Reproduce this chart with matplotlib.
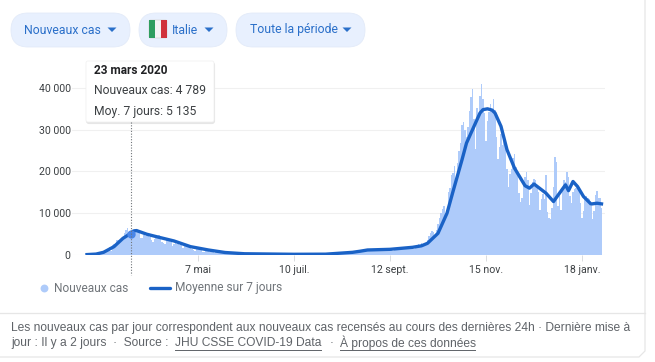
import pandas as pd
import matplotlib
matplotlib.use("Agg")
import matplotlib.pyplot as plt
import matplotlib.dates as mdates
from matplotlib.patches import FancyBboxPatch, Polygon, Rectangle

plt.rcParams['font.family'] = ['Roboto', 'DejaVu Sans']

# nouveaux cas par jour, du 23 fevrier 2020 au 31 janvier 2021
feb = [59, 77, 93, 78, 250, 238, 240]
mar = [561, 347, 466, 587, 769, 778, 1247, 1492, 1797, 977, 2313, 2651, 2547, 3497, 3590, 3233,
       3526, 4207, 5322, 5986, 6557, 5560, 4789, 5249, 5210, 6203, 5909, 5974, 5217, 4050, 4053]
apr = [4782, 4668, 4585, 4805, 4316, 3599, 3039, 3836, 4204, 3951, 4694, 4092, 3153, 2972, 2667,
       3786, 3493, 3491, 3047, 2256, 2729, 3370, 2646, 3021, 2357, 2324, 1739, 2091, 2086, 1872]
may = [1965, 1900, 1389, 1221, 1075, 1444, 1401, 1327, 1083, 802, 744, 1402, 888, 992, 789, 875,
       675, 451, 813, 665, 642, 652, 669, 531, 300, 397, 584, 593, 516, 416, 355]
jun = [318, 321, 177, 518, 270, 197, 280, 283, 202, 379, 163, 346, 338, 301, 210, 329, 333, 251,
       262, 224, 218, 122, 190, 296, 259, 175, 174, 126, 142, 187]
jul = [201, 223, 235, 192, 208, 138, 193, 229, 276, 188, 234, 169, 114, 163, 230, 233, 249, 219,
       190, 129, 282, 306, 252, 274, 255, 246, 170, 212, 289, 386, 379]
aug = [295, 239, 159, 190, 384, 402, 552, 347, 463, 259, 412, 481, 574, 629, 479, 320, 403, 642,
       845, 947, 1071, 1210, 1047, 953, 878, 1367, 1411, 1462, 1444, 1365, 996]
sep = [978, 1326, 1397, 1733, 1695, 1297, 1108, 1370, 1434, 1597, 1616, 1501, 1458, 1008, 1229,
       1452, 1585, 1907, 1638, 1587, 1350, 1392, 1640, 1786, 1912, 1869, 1766, 1494, 1648, 1851]
oct_ = [2548, 2499, 2844, 2578, 2257, 2677, 3678, 4458, 5372, 5724, 5456, 4619, 5901, 7332, 8804,
        10010, 10925, 11705, 9338, 10874, 15199, 16079, 19143, 19644, 21273, 17012, 21994, 24991,
        26831, 31084, 31758]
nov = [29907, 28244, 30550, 34505, 37809, 39811, 32616, 25271, 35098, 32961, 37978, 40902, 37255,
       33979, 27354, 32191, 34283, 36176, 34767, 37242, 34767, 28337, 22930, 25853, 29003, 26323,
       28352, 26323, 20648, 16377]
dec = [19350, 20709, 23225, 24099, 21052, 18887, 14842, 12756, 13720, 16999, 18727, 19903, 17938,
       12030, 14844, 17572, 18236, 17992, 16308, 15104, 10872, 13318, 14522, 13379, 19037, 10407,
       8913, 8585, 11212, 16202, 23477]
jan = [22211, 11831, 14245, 10800, 15378, 18020, 17533, 19978, 18627, 14242, 12532, 14978, 15774,
       16146, 16310, 16310, 12545, 8824, 10497, 13571, 14078, 13633, 13331, 11629, 8561, 10593,
       14372, 15204, 13574, 13663, 11252]
new_cases = feb + mar + apr + may + jun + jul + aug + sep + oct_ + nov + dec + jan
case_dates = pd.date_range("2020-02-23", periods=len(new_cases))

# moyenne sur 7 jours
avg_dates = pd.to_datetime([
    "2020-02-23", "2020-02-29", "2020-03-05", "2020-03-12", "2020-03-18", "2020-03-23", "2020-03-25",
    "2020-03-27", "2020-04-03", "2020-04-12", "2020-04-21", "2020-05-02", "2020-05-14", "2020-05-25",
    "2020-06-07", "2020-07-10", "2020-07-31", "2020-08-18", "2020-08-23", "2020-08-28", "2020-09-12",
    "2020-09-27", "2020-10-03", "2020-10-07", "2020-10-14", "2020-10-20", "2020-10-24", "2020-10-30",
    "2020-11-02", "2020-11-07", "2020-11-11", "2020-11-13", "2020-11-16", "2020-11-19", "2020-11-21",
    "2020-11-25", "2020-11-29", "2020-12-04", "2020-12-11", "2020-12-14", "2020-12-17", "2020-12-25",
    "2020-12-30", "2021-01-07", "2021-01-09", "2021-01-12", "2021-01-15", "2021-01-19", "2021-01-24",
    "2021-01-28", "2021-01-31"])
avg_values = [100, 220, 640, 2000, 4000, 5135, 5750, 5850, 4960, 4150, 3360, 2000, 1200, 600,
              300, 170, 200, 640, 900, 1200, 1360,
              1840, 2200, 2800, 5200, 10000, 15200, 22800,
              26800, 30800, 34000, 34800, 35000, 34700, 34000,
              30800, 25200, 20800, 16600, 16000, 17000, 14800,
              12800, 16800, 15400, 17600, 16400, 14000, 12200,
              12400, 12240]

tick_dates = pd.to_datetime(["2020-05-07", "2020-07-10", "2020-09-12", "2020-11-15", "2021-01-18"])
tick_labels = ["7 mai", "10 juil.", "12 sept.", "15 nov.", "18 janv."]
y_ticks = [0, 10000, 20000, 30000, 40000]
y_labels = ["0", "10 000", "20 000", "30 000", "40 000"]

W, H = 655, 362
fig = plt.figure(figsize=(W / 100, H / 100), dpi=100)

# graphique principal, place en pixels
ax = fig.add_axes([72 / W, 1 - 255 / H, 533 / W, 175 / H])
ax.bar(case_dates, new_cases, width=0.9, color="#aecbfa", linewidth=0, zorder=2)
ax.plot(avg_dates, avg_values, color="#1a62c6", lw=2.4, solid_joinstyle="round", zorder=3)
ax.scatter(pd.to_datetime(["2020-03-23"]), [5135], s=36, color="#4a86e8", linewidths=0, zorder=4)

px_per_day = (582 - 198) / (tick_dates[4] - tick_dates[0]).days
x0 = mdates.date2num(tick_dates[4]) - (582 - 72) / px_per_day
ax.set_xlim(x0, x0 + 533 / px_per_day)
ax.set_ylim(0, 41900)
ax.set_xticks(tick_dates)
ax.set_xticklabels(tick_labels)
ax.set_yticks(y_ticks)
ax.set_yticklabels(y_labels)
ax.tick_params(axis="x", length=4, width=0.7, color="#dadce0", pad=3, labelsize=7.6, labelcolor="#3c4043")
ax.tick_params(axis="y", length=0, pad=1, labelsize=7.6, labelcolor="#3c4043")
ax.grid(axis="y", color="#f0f0f0", lw=0.8, zorder=0)
ax.set_axisbelow(True)
for s in ax.spines.values():
    s.set_visible(False)

# tout le reste de l'interface, en coordonnees pixel
ui = fig.add_axes([0, 0, 1, 1], zorder=5)
ui.set_xlim(0, W)
ui.set_ylim(H, 0)
ui.axis("off")
ui.patch.set_alpha(0)

blue = "#2a6fc9"
grey = "#70757a"
foot = "#5f6368"


def pill(x0, x1, y0=13, y1=47):
    h = y1 - y0
    ui.add_patch(FancyBboxPatch((x0 + h / 2, y0 + h / 2), x1 - x0 - h, 0,
                                boxstyle=f"round,pad={h / 2},rounding_size={h / 2}",
                                fc="#e8f0fe", ec="#e3ebf9", lw=0.6))


def caret(x, y=29.5):
    ui.add_patch(Polygon([(x - 4.5, y - 2), (x + 4.5, y - 2), (x, y + 2.5)], fc="#2a6fc9", ec="none"))


pill(11, 130)
pill(139, 227)
pill(236, 365)
ui.text(24, 30, "Nouveaux cas", color=blue, fontsize=8.8, va="center")
ui.text(172, 30, "Italie", color=blue, fontsize=8.8, va="center")
ui.text(250, 30, "Toute la période", color=blue, fontsize=8.8, va="center")
caret(112)
caret(209)
caret(347)

# drapeau
ui.add_patch(FancyBboxPatch((149, 20), 18, 18, boxstyle="round,pad=0,rounding_size=1.5", fc="#f4f4f4", ec="#d5d5d5", lw=0.5))
ui.add_patch(Rectangle((149, 20), 6, 18, fc="#2f9e5f", ec="none"))
ui.add_patch(Rectangle((161, 20), 6, 18, fc="#d0323c", ec="none"))

# ligne pointillee et info-bulle
ui.plot([130.5, 130.5], [122, 275], color="#70757a", lw=0.8, ls=(0, (1, 1.5)))
ui.add_patch(FancyBboxPatch((87, 63), 127, 60, boxstyle="round,pad=0,rounding_size=2", fc="#d8d8d8", ec="#e6e6e6", lw=1.5))
ui.add_patch(FancyBboxPatch((86, 61), 128, 61, boxstyle="round,pad=0,rounding_size=2", fc="white", ec="#f0f0f0", lw=0.5))
ui.text(94, 71, "23 mars 2020", color="#202124", fontsize=8.6, fontweight="bold", va="center")
ui.text(94, 90.5, "Nouveaux cas: 4 789", color="#3c4043", fontsize=8.7, va="center")
ui.text(94, 111, "Moy. 7 jours: 5 135", color="#3c4043", fontsize=8.7, va="center")

# legende
ui.scatter([44], [288], s=32, color="#aecbfa", linewidths=0)
ui.text(54, 288, "Nouveaux cas", color=grey, fontsize=8.6, va="center")
ui.plot([150, 170], [288, 288], color="#1a62c6", lw=2.4, solid_capstyle="round")
ui.text(175, 288, "Moyenne sur 7 jours", color=grey, fontsize=8.6, va="center")

# pied de carte
ui.plot([0, 645], [313, 313], color="#e6e6e6", lw=0.9)
ui.plot([0, 639, 645, 645], [357, 357, 351, 0], color="#e6e6e6", lw=0.9)
ui.text(11, 328, "Les nouveaux cas par jour correspondent aux nouveaux cas recensés au cours des dernières 24h · Dernière mise à",
        color=foot, fontsize=8.65, va="center", family="Liberation Sans")
ui.text(11, 343, "jour : Il y a 2 jours  ·  Source :", color=foot, fontsize=8.65, va="center", family="Liberation Sans")
ui.text(175, 343, "JHU CSSE COVID-19 Data", color=foot, fontsize=8.65, va="center", family="Liberation Sans")
ui.text(330, 343, "·", color=foot, fontsize=8.65, va="center", family="Liberation Sans")
ui.text(340, 343, "À propos de ces données", color=foot, fontsize=8.65, va="center", family="Liberation Sans")
ui.plot([175, 321], [349.5, 349.5], color=foot, lw=0.7)
ui.plot([340, 475], [349.5, 349.5], color=foot, lw=0.7)

fig.savefig("out.png", dpi=100)
